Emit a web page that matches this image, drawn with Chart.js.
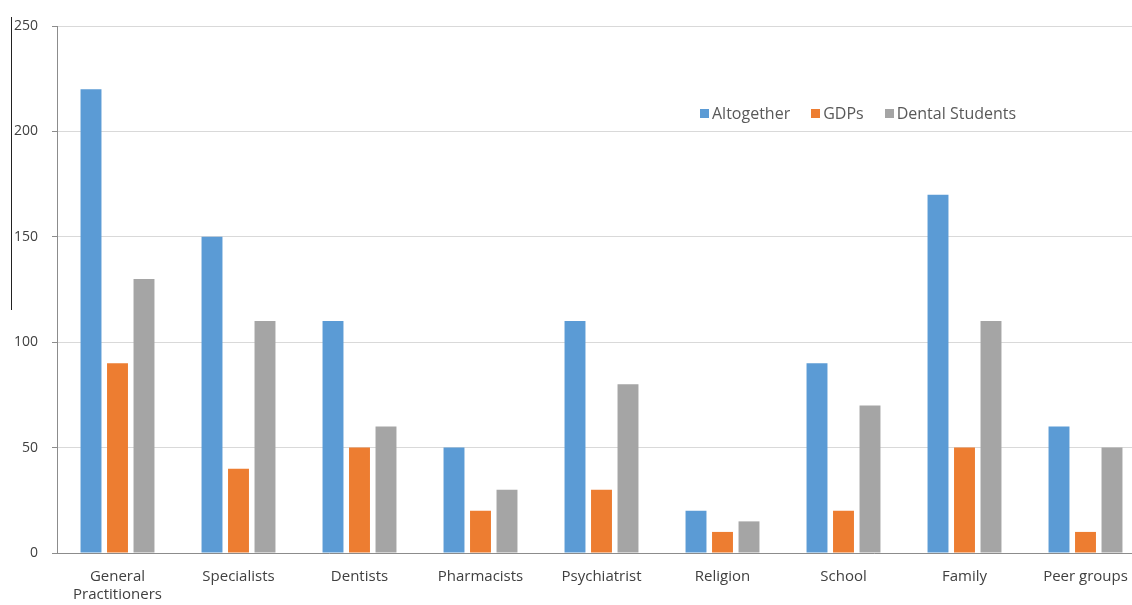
<!DOCTYPE html>
<html><head><meta charset="utf-8">
<script src="https://cdn.jsdelivr.net/npm/chart.js@4"></script>
<style>
html,body{margin:0;padding:0;background:#fff;overflow:hidden;width:1132px;height:605px;}
#wrap{position:absolute;left:0;top:0;width:1146px;height:605px;}
#legend{position:absolute;top:102px;left:700px;font-family:"Open Sans",sans-serif;font-size:16px;color:#595959;white-space:nowrap;}
#legend span.item{margin-right:21px;}
#legend span.sw{display:inline-block;width:9px;height:9px;margin-right:3px;vertical-align:1px;}
#artifact{position:absolute;left:11px;top:17px;width:1px;height:293px;background:#222;}
</style></head>
<body>
<div id="wrap"><canvas id="c"></canvas></div>
<div id="legend"></div>
<div id="artifact"></div>
<script>
const categories = [["General","Practitioners"],"Specialists","Dentists","Pharmacists","Psychiatrist","Religion","School","Family","Peer groups"];
const seriesNames = ["Altogether","GDPs","Dental Students"];
const altogether = [220,150,110,50,110,20,90,170,60];
const gdps = [90,40,50,20,30,10,20,50,10];
const dentalStudents = [130,110,60,30,80,15,70,110,50];
const colors = ["#5B9BD5","#ED7D31","#A5A5A5"];
const yTicks = [0,50,100,150,200,250];

const values = [altogether,gdps,dentalStudents];
const font = "'Open Sans', sans-serif";
const chart = new Chart(document.getElementById('c'), {
  type:'bar',
  data:{
    labels:categories,
    datasets: seriesNames.map((n,i)=>({label:n,data:values[i],backgroundColor:colors[i],barPercentage:0.79,categoryPercentage:0.657}))
  },
  options:{
    responsive:true,maintainAspectRatio:false,animation:false,
    layout:{padding:{top:26,right:0,bottom:0,left:0}},
    plugins:{legend:{display:false},tooltip:{enabled:false}},
    scales:{
      x:{
        grid:{display:false,drawTicks:false},
        border:{display:true,color:'#8C8C8C',width:1},
        ticks:{color:'#404040',font:{family:font,size:15},padding:15,maxRotation:0,autoSkip:false},
        afterFit:s=>{s.height=52;}
      },
      y:{
        min:0,max:250,
        afterBuildTicks:s=>{s.ticks=yTicks.map(v=>({value:v}));},
        grid:{color:'#D9D9D9',tickColor:'#8C8C8C',tickLength:5,drawTicks:true},
        border:{display:true,color:'#8C8C8C',width:1},
        ticks:{color:'#404040',font:{family:font,size:14},padding:14},
        afterFit:s=>{s.width=57;}
      }
    }
  }
});

const lg = document.getElementById('legend');
seriesNames.forEach((n,i)=>{
  const it=document.createElement('span');it.className='item';
  const sw=document.createElement('span');sw.className='sw';sw.style.background=colors[i];
  it.appendChild(sw);it.appendChild(document.createTextNode(n));lg.appendChild(it);
});
</script>
</body></html>
